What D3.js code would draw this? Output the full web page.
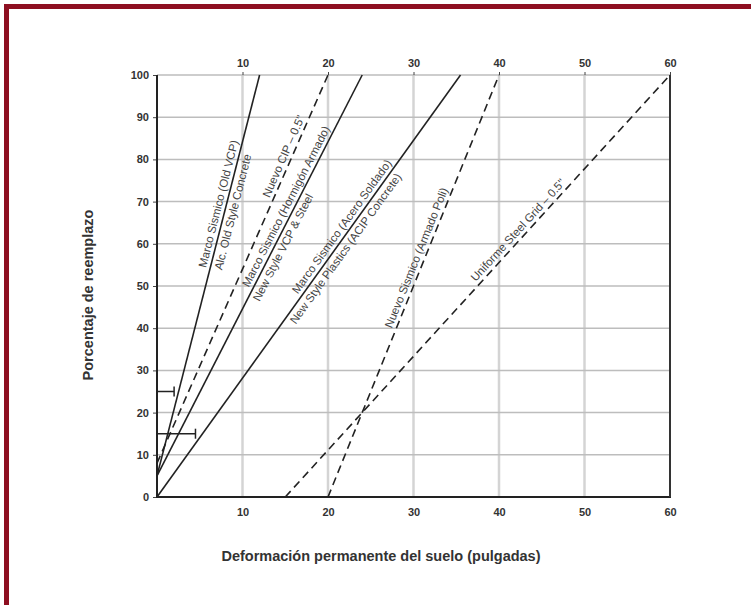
<!DOCTYPE html>
<html>
<head>
<meta charset="utf-8">
<script src="https://cdn.jsdelivr.net/npm/d3@7"></script>
<style>
  body { margin: 0; background: #fff; }
  text { font-family: "Liberation Sans", Arial, sans-serif; }
</style>
</head>
<body>
<svg id="canvas"></svg>
<script>
// tick values
let xTicks = [10, 20, 30, 40, 50, 60]
let yTicks = [0, 10, 20, 30, 40, 50, 60, 70, 80, 90, 100]

// each line: start point -> end point
let lineX0 = [0, 0, 0, 0, 20, 15]
let lineY0 = [5, 8, 5, 0, 0, 0]
let lineX1 = [12, 20, 24, 35.5, 40, 60]
let lineY1 = [100, 100, 100, 100, 100, 100]
let lineDashed = [false, true, false, false, true, true]

// labels along the lines (above / below), and the y value where they sit
let labelAbove = ["Marco Sismico (Old VCP)", "Nuevo CIP – 0.5\"", "Marco Sismico (Hormigón Armado)",
                  "Marco Sismico (Acero Soldado)", "Nuevo Sismico (Armado Poli)", "Uniforme Steel Grid – 0.5\""]
let labelBelow = ["Alc. Old Style Concrete", "", "New Style VCP & Steel",
                  "New Style Plastics (ACIP Concrete)", "", ""]
let labelAtY = [69, 80, 68, 63, 56, 62]
let labelBelowAtY = [68, 0, 60, 60, 0, 0]

// small range brackets near the origin
let bracketY = [25, 15]
let bracketX = [2, 4.5]

let width = 751
let height = 605
let padLeft = 157, padRight = 670, padTop = 75, padBottom = 497

let svg = d3.select("#canvas")
svg.attr("width", width).attr("height", height)

// red frame
svg.append("rect").attr("x", 4).attr("y", 4).attr("width", width).attr("height", 5).attr("fill", "#8e0f21")
svg.append("rect").attr("x", 4).attr("y", 4).attr("width", 5).attr("height", height).attr("fill", "#8e0f21")

let xScale = d3.scaleLinear().domain([0, 60]).range([padLeft, padRight])
let yScale = d3.scaleLinear().domain([0, 100]).range([padBottom, padTop])

// grid
svg.append("g").selectAll("line")
    .data(xTicks.filter(d => d < 60))
    .enter().append("line")
    .attr("x1", d => xScale(d)).attr("x2", d => xScale(d))
    .attr("y1", padTop).attr("y2", padBottom)
    .attr("stroke", "#d4d4d4").attr("stroke-width", 2.5)

svg.append("g").selectAll("line")
    .data(yTicks.filter(d => d > 0))
    .enter().append("line")
    .attr("x1", padLeft).attr("x2", padRight)
    .attr("y1", d => yScale(d)).attr("y2", d => yScale(d))
    .attr("stroke", "#bdbdbd").attr("stroke-width", 1.5)

// axes
let yAxis = d3.axisLeft(yScale).tickValues(yTicks).tickSize(4).tickPadding(4)
let gy = svg.append("g").attr("transform", "translate(" + padLeft + ",0)").call(yAxis)
let xBottom = d3.axisBottom(xScale).tickValues(xTicks).tickSize(0).tickPadding(11)
let gb = svg.append("g").attr("transform", "translate(0," + padBottom + ")").call(xBottom)
let xTop = d3.axisTop(xScale).tickValues(xTicks).tickSize(3).tickPadding(5)
let gt = svg.append("g").attr("transform", "translate(0," + padTop + ")").call(xTop)

;[gy, gb, gt].forEach(g => {
    g.selectAll("text").attr("font-size", 11).attr("font-weight", "bold").attr("fill", "#333")
        .style("font-family", "'Liberation Sans', Arial, sans-serif")
    g.select(".domain").remove()
    g.selectAll(".tick line").attr("stroke", "#444")
})

svg.append("line").attr("x1", padLeft).attr("x2", padLeft).attr("y1", padTop).attr("y2", padBottom + 1)
    .attr("stroke", "#222").attr("stroke-width", 2)
svg.append("line").attr("x1", padLeft).attr("x2", padRight + 1).attr("y1", padBottom).attr("y2", padBottom)
    .attr("stroke", "#222").attr("stroke-width", 2)
svg.append("line").attr("x1", padRight).attr("x2", padRight).attr("y1", padTop).attr("y2", padBottom)
    .attr("stroke", "#333").attr("stroke-width", 2)

// lines
let idx = d3.range(lineX0.length)
svg.append("g").selectAll("line")
    .data(idx)
    .enter().append("line")
    .attr("x1", i => xScale(lineX0[i])).attr("y1", i => yScale(lineY0[i]))
    .attr("x2", i => xScale(lineX1[i])).attr("y2", i => yScale(lineY1[i]))
    .attr("stroke", "#222").attr("stroke-width", 1.6)
    .attr("stroke-dasharray", i => lineDashed[i] ? "8,5" : null)

// brackets
let br = svg.append("g")
bracketY.forEach((yv, i) => {
    let yb = yScale(yv)
    br.append("line").attr("x1", xScale(0)).attr("x2", xScale(bracketX[i]))
        .attr("y1", yb).attr("y2", yb).attr("stroke", "#222").attr("stroke-width", 1.5)
    br.append("line").attr("x1", xScale(bracketX[i])).attr("x2", xScale(bracketX[i]))
        .attr("y1", yb - 5).attr("y2", yb + 5).attr("stroke", "#222").attr("stroke-width", 1.5)
})

// labels along lines
let pointAt = (i, yv) => {
    let t = (yv - lineY0[i]) / (lineY1[i] - lineY0[i])
    let xv = lineX0[i] + t * (lineX1[i] - lineX0[i])
    return [xScale(xv), yScale(yv)]
}
let angleOf = i => {
    let dx = xScale(lineX1[i]) - xScale(lineX0[i])
    let dy = yScale(lineY1[i]) - yScale(lineY0[i])
    return Math.atan2(dy, dx) * 180 / Math.PI
}

let lab = svg.append("g")
idx.forEach(i => {
    let a = angleOf(i)
    let p = pointAt(i, labelAtY[i])
    lab.append("text")
        .attr("transform", "translate(" + p[0] + "," + p[1] + ") rotate(" + a + ")")
        .attr("y", -4)
        .attr("text-anchor", "middle")
        .attr("font-size", 11.5)
        .attr("fill", "#444")
        .text(labelAbove[i])
    if (labelBelow[i]) {
        let q = pointAt(i, labelBelowAtY[i])
        lab.append("text")
            .attr("transform", "translate(" + q[0] + "," + q[1] + ") rotate(" + a + ")")
            .attr("y", 12)
            .attr("text-anchor", "middle")
            .attr("font-size", 11.5)
            .attr("fill", "#444")
            .text(labelBelow[i])
    }
})

// axis titles
svg.append("text")
    .attr("x", 381).attr("y", 561)
    .attr("text-anchor", "middle")
    .attr("font-size", 14.5).attr("font-weight", "bold").attr("fill", "#333")
    .text("Deformación permanente del suelo (pulgadas)")

svg.append("text")
    .attr("transform", "translate(93,295) rotate(-90)")
    .attr("text-anchor", "middle")
    .attr("font-size", 14.5).attr("font-weight", "bold").attr("fill", "#333")
    .text("Porcentaje de reemplazo")
</script>
</body>
</html>
